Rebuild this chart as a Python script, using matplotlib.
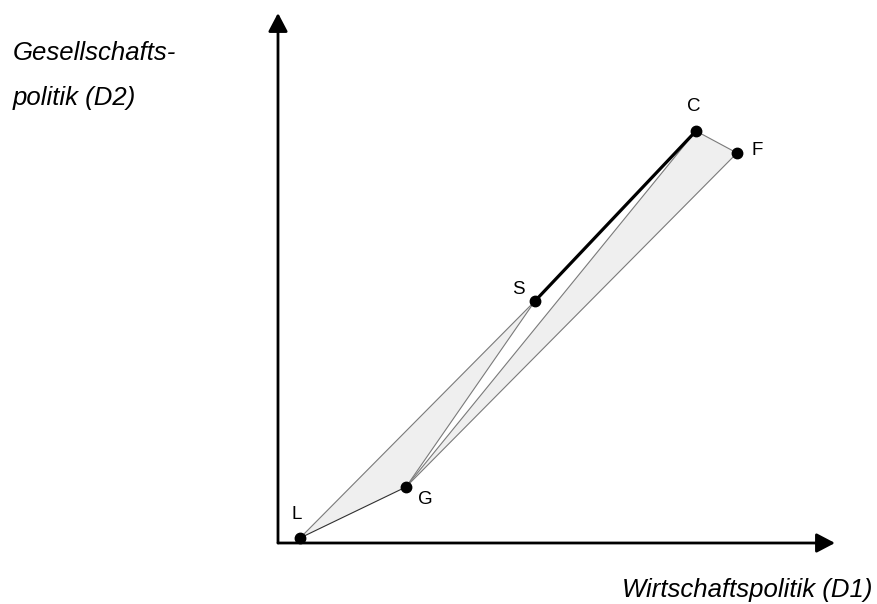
import matplotlib
matplotlib.use("Agg")
import matplotlib.pyplot as plt
from matplotlib.patches import Polygon

plt.rcParams["font.family"] = ["Liberation Sans", "DejaVu Sans"]

# positions of the parties (D1 = economic policy, D2 = social policy)
parties = ["L", "G", "S", "C", "F"]
d1 = [3.95, 22.98, 46.14, 75.04, 82.41]
d2 = [0.94, 10.57, 45.66, 77.74, 73.58]

# label offsets in pixels (dx, dy)
label_dx = [-3, 19, -17, -2, 20]
label_dy = [24, -13, 12, 24, 3]

# shaded triangles (indices into parties)
triangles = [(0, 1, 2), (1, 3, 4)]
# thin connecting lines
thin_lines = [(0, 1), (0, 2), (1, 2), (1, 3), (1, 4), (3, 4)]
# bold coalition line
bold_line = (2, 3)

FILL = "#efefef"
EDGE = "#7a7a7a"

fig = plt.figure(figsize=(8.77, 6.04), dpi=100)
ax = fig.add_axes([278 / 877, (604 - 543) / 604, (835 - 278) / 877, (543 - 13) / 604])
ax.set_xlim(0, 100)
ax.set_ylim(0, 100)
ax.axis("off")

for tri in triangles:
    pts = [(d1[i], d2[i]) for i in tri]
    ax.add_patch(Polygon(pts, closed=True, facecolor=FILL, edgecolor="none", zorder=1))

for a, b in thin_lines:
    col = "#303030" if (a, b) == (0, 1) else EDGE
    ax.plot([d1[a], d1[b]], [d2[a], d2[b]], color=col, linewidth=0.8, zorder=2,
            clip_on=False)

a, b = bold_line
ax.plot([d1[a], d1[b]], [d2[a], d2[b]], color="black", linewidth=2.3, zorder=3,
        solid_capstyle="round")

ax.plot(d1, d2, "o", color="black", markersize=7.5, zorder=4, clip_on=False)

for name, x, y, dx, dy in zip(parties, d1, d2, label_dx, label_dy):
    ax.annotate(name, (x, y), xytext=(dx, dy), textcoords="offset pixels",
                ha="center", va="center", fontsize=13.5, color="black")

# axes with arrow heads
arrow = dict(arrowstyle="-|>,head_length=0.8,head_width=0.42", color="black",
             linewidth=2.0, mutation_scale=14, shrinkA=0, shrinkB=0)
ax.annotate("", xy=(1, 0), xytext=(0, 0), xycoords="axes fraction",
            textcoords="axes fraction", arrowprops=arrow, annotation_clip=False)
ax.annotate("", xy=(0, 1), xytext=(0, 0), xycoords="axes fraction",
            textcoords="axes fraction", arrowprops=arrow, annotation_clip=False)

# axis titles (pixel positions, origin top-left)
fig.text(13 / 877, 1 - 60 / 604, "Gesellschafts-", fontsize=18.5, style="italic",
         ha="left", va="baseline")
fig.text(13 / 877, 1 - 105 / 604, "politik (D2)", fontsize=18.5, style="italic",
         ha="left", va="baseline")
fig.text(873 / 877, 1 - 597 / 604, "Wirtschaftspolitik (D1)", fontsize=18.5,
         style="italic", ha="right", va="baseline")

fig.savefig("out.png", dpi=100)
